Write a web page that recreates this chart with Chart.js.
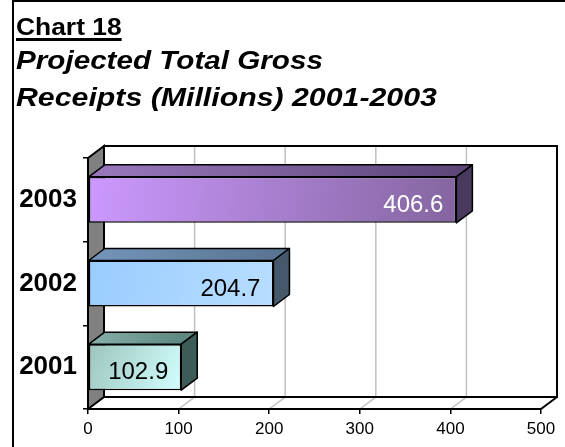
<!DOCTYPE html>
<html>
<head>
<meta charset="utf-8">
<script src="https://cdn.jsdelivr.net/npm/chart.js@4"></script>
<style>
  body { margin: 0; background: #fff; }
  #wrap { position: relative; width: 565px; height: 447px; overflow: hidden; font-family: Arial, "Liberation Sans", sans-serif; }
  #frame { position: absolute; left: 12px; top: 0; width: 700px; height: 600px; border-left: 2px solid #000; border-top: 2px solid #000; }
  .t { position: absolute; left: 16px; white-space: nowrap; line-height: 1; color: #000; font-weight: bold; transform-origin: left top; }
  #t0 { top: 15px; font-size: 24px; transform: scaleX(1.1); text-decoration: underline; text-decoration-thickness: 3px; text-underline-offset: 3px; }
  #t1 { top: 47px; font-size: 26px; font-style: italic; transform: scaleX(1.14); }
  #t2 { top: 84px; font-size: 26px; font-style: italic; transform: scaleX(1.165); }
  #holder { position: absolute; left: 0; top: 0; width: 565px; height: 447px; }
</style>
</head>
<body>
<div id="wrap">
  <div id="holder"><canvas id="receiptsChart"></canvas></div>
  <div id="frame"></div>
  <div class="t" id="t0">Chart 18</div>
  <div class="t" id="t1">Projected Total Gross</div>
  <div class="t" id="t2">Receipts (Millions) 2001-2003</div>
</div>
<script>
// data, top bar first
const years = ["2003", "2002", "2001"];
const receipts = [406.6, 204.7, 102.9];
const xTicks = [0, 100, 200, 300, 400, 500];

// colours per bar: front gradient (start, end), top face, side face, label colour
const frontFrom = ["#cc99ff", "#99ccff", "#9cc4bc"];
const frontTo = ["#84659f", "#b8deff", "#d2ffff"];
const topFrom = ["#9a78bd", "#7495ba", "#86b0a8"];
const topTo = ["#5d4779", "#5a7593", "#5e8983"];
const sideColor = ["#4a395f", "#45596b", "#3d5b57"];
const labelColor = ["#ffffff", "#000000", "#000000"];

const DX = 16;   // depth offset
const DY = -12;

const boxPlugin = {
  id: "box3d",
  beforeDraw(chart) {
    const { ctx, chartArea: a, scales } = chart;
    const xs = scales.x;
    ctx.save();
    // back wall
    ctx.fillStyle = "#ffffff";
    ctx.fillRect(a.left + DX, a.top + DY, a.right - a.left, a.bottom - a.top);
    // grid on back wall and floor
    ctx.strokeStyle = "#c0c0c0";
    ctx.lineWidth = 1.5;
    xTicks.forEach(v => {
      if (v === 0 || v === 500) return;
      const px = xs.getPixelForValue(v);
      ctx.beginPath();
      ctx.moveTo(px + DX, a.top + DY);
      ctx.lineTo(px + DX, a.bottom + DY);
      ctx.lineTo(px, a.bottom);
      ctx.stroke();
    });
    // wall outline
    ctx.strokeStyle = "#000";
    ctx.lineWidth = 2;
    ctx.strokeRect(a.left + DX, a.top + DY, a.right - a.left, a.bottom - a.top);
    // floor diagonal at right
    ctx.beginPath();
    ctx.moveTo(a.right, a.bottom);
    ctx.lineTo(a.right + DX, a.bottom + DY);
    ctx.stroke();
    // grey side wall
    ctx.beginPath();
    ctx.moveTo(a.left, a.top);
    ctx.lineTo(a.left + DX, a.top + DY);
    ctx.lineTo(a.left + DX, a.bottom + DY);
    ctx.lineTo(a.left, a.bottom);
    ctx.closePath();
    ctx.fillStyle = "#808080";
    ctx.fill();
    ctx.stroke();
    ctx.restore();
  },
  afterDatasetsDraw(chart) {
    const { ctx } = chart;
    const meta = chart.getDatasetMeta(0);
    ctx.save();
    ctx.strokeStyle = "#000";
    ctx.lineWidth = 1.5;
    ctx.lineJoin = "round";
    meta.data.forEach((bar, i) => {
      const x0 = bar.base, x1 = bar.x;
      const top = bar.y - bar.height / 2, bottom = bar.y + bar.height / 2;
      // top face
      const g = ctx.createLinearGradient(x0, 0, x1, 0);
      g.addColorStop(0, topFrom[i]);
      g.addColorStop(1, topTo[i]);
      ctx.beginPath();
      ctx.moveTo(x0, top);
      ctx.lineTo(x0 + DX, top + DY);
      ctx.lineTo(x1 + DX, top + DY);
      ctx.lineTo(x1, top);
      ctx.closePath();
      ctx.fillStyle = g;
      ctx.fill();
      ctx.stroke();
      // side face
      ctx.beginPath();
      ctx.moveTo(x1, top);
      ctx.lineTo(x1 + DX, top + DY);
      ctx.lineTo(x1 + DX, bottom + DY);
      ctx.lineTo(x1, bottom);
      ctx.closePath();
      ctx.fillStyle = sideColor[i];
      ctx.fill();
      ctx.stroke();
      // value label
      ctx.font = "24px Arial, 'Liberation Sans', sans-serif";
      ctx.fillStyle = labelColor[i];
      ctx.textAlign = "right";
      ctx.textBaseline = "alphabetic";
      ctx.fillText(receipts[i].toFixed(1), x1 - 13, bar.y + 12);
    });
    ctx.restore();
  }
};

function frontFill(context) {
  const chart = context.chart;
  const i = context.dataIndex;
  if (!chart.chartArea || !chart.scales.x) return frontFrom[i];
  const xs = chart.scales.x, ys = chart.scales.y;
  const x0 = xs.getPixelForValue(0), x1 = xs.getPixelForValue(receipts[i]);
  const yc = ys.getPixelForValue(i);
  const g = chart.ctx.createLinearGradient(x0, yc - 23, x1, yc + 23);
  g.addColorStop(0, frontFrom[i]);
  g.addColorStop(1, frontTo[i]);
  return g;
}

new Chart(document.getElementById("receiptsChart"), {
  type: "bar",
  data: {
    labels: years,
    datasets: [{
      data: receipts,
      backgroundColor: frontFill,
      borderColor: "#000",
      borderWidth: 1.5,
      borderSkipped: false,
      categoryPercentage: 1,
      barPercentage: 0.55
    }]
  },
  options: {
    indexAxis: "y",
    responsive: true,
    maintainAspectRatio: false,
    animation: false,
    layout: { padding: { left: 0, right: 24, top: 158, bottom: 0 } },
    plugins: {
      legend: { display: false },
      tooltip: { enabled: false }
    },
    scales: {
      x: {
        min: 0,
        max: 500,
        afterBuildTicks(scale) {
          scale.ticks = xTicks.map(v => ({ value: v }));
        },
        afterFit(scale) { scale.height = 38; },
        grid: { drawOnChartArea: false, tickLength: 5, color: "#000", lineWidth: 1.5 },
        border: { display: true, color: "#000", width: 2 },
        ticks: {
          color: "#000",
          padding: 5,
          maxRotation: 0,
          font: { family: "Arial, 'Liberation Sans', sans-serif", size: 17 }
        }
      },
      y: {
        afterFit(scale) { scale.width = 88; },
        grid: { offset: true, drawOnChartArea: false, tickLength: 5, color: "#000", lineWidth: 1.5 },
        border: { display: true, color: "#000", width: 2 },
        ticks: {
          color: "#000",
          padding: 6,
          font: { family: "Arial, 'Liberation Sans', sans-serif", size: 26, weight: "bold" }
        }
      }
    }
  },
  plugins: [boxPlugin]
});
</script>
</body>
</html>
